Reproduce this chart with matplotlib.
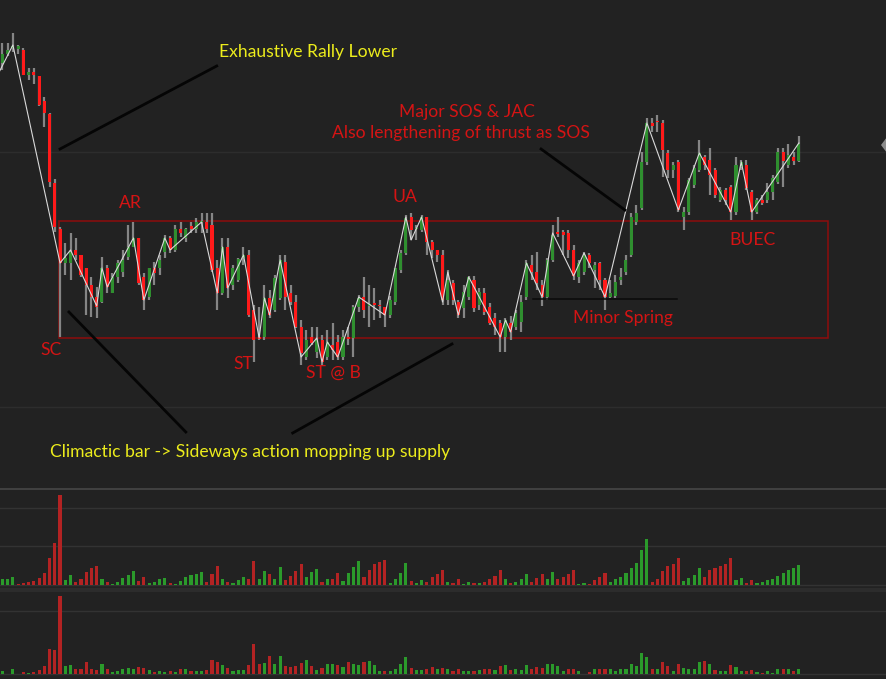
import numpy as np
import matplotlib
matplotlib.use("Agg")
import matplotlib.pyplot as plt
from matplotlib.lines import Line2D
from matplotlib.patches import Rectangle, Polygon

# ---- price bars (one per session) ----
opens = [
    437, 446, 452, 451, 450, 425, 428, 424, 399, 386,
    317, 271, 237, 237, 250, 245, 232, 215, 203, 198,
    232, 207, 223, 228, 243, 253, 262, 223, 203, 232,
    232, 248, 262, 250, 271, 262, 274, 271, 278, 278,
    275, 232, 207, 253, 215, 220, 242, 245, 190, 163,
    163, 202, 190, 202, 238, 207, 198, 173, 143, 163,
    148, 160, 143, 155, 158, 143, 163, 162, 193, 203,
    194, 197, 195, 193, 185, 198, 230, 247, 283, 271,
    270, 283, 258, 250, 245, 200, 217, 198, 192, 203,
    220, 195, 207, 193, 182, 177, 163, 177, 173, 178,
    203, 235, 228, 215, 203, 240, 268, 268, 267, 250,
    223, 228, 245, 230, 237, 220, 203, 204, 220, 228,
    245, 278, 292, 338, 377, 379, 377, 347, 330, 338,
    283, 288, 315, 330, 343, 340, 330, 300, 310, 313,
    288, 333, 335, 308, 288, 300, 300, 308, 318, 348,
    335, 343, 339,
]
highs = [
    457, 457, 467, 455, 452, 432, 432, 424, 403, 387,
    321, 273, 257, 267, 262, 245, 232, 223, 213, 243,
    235, 227, 240, 250, 275, 278, 262, 227, 232, 238,
    245, 265, 264, 275, 278, 272, 278, 282, 287, 287,
    287, 240, 262, 262, 235, 242, 253, 250, 195, 193,
    215, 210, 225, 245, 245, 215, 205, 180, 170, 173,
    173, 165, 170, 177, 165, 170, 173, 195, 205, 223,
    215, 212, 200, 193, 204, 232, 250, 285, 287, 275,
    285, 283, 260, 250, 250, 230, 220, 200, 215, 224,
    224, 212, 212, 197, 187, 180, 182, 184, 190, 205,
    240, 245, 248, 220, 242, 275, 283, 270, 270, 255,
    240, 248, 247, 238, 238, 222, 220, 225, 232, 245,
    287, 295, 348, 382, 382, 385, 380, 350, 338, 340,
    293, 322, 335, 360, 345, 352, 332, 313, 312, 315,
    343, 340, 340, 310, 302, 305, 317, 325, 352, 352,
    356, 348, 364,
]
lows = [
    430, 444, 448, 446, 425, 420, 416, 394, 373, 313,
    268, 163, 225, 220, 240, 223, 185, 183, 182, 197,
    207, 207, 217, 223, 240, 253, 215, 190, 200, 215,
    225, 242, 247, 248, 263, 258, 267, 267, 267, 267,
    228, 190, 205, 202, 210, 218, 235, 183, 138, 160,
    160, 182, 188, 200, 190, 195, 172, 135, 140, 155,
    142, 135, 140, 140, 140, 140, 155, 143, 188, 182,
    173, 180, 182, 173, 182, 195, 227, 245, 260, 260,
    268, 245, 242, 238, 195, 195, 195, 182, 182, 200,
    188, 190, 185, 175, 165, 148, 148, 160, 170, 168,
    200, 220, 210, 194, 200, 238, 263, 245, 242, 220,
    217, 225, 232, 212, 210, 190, 202, 202, 215, 225,
    243, 275, 290, 335, 368, 368, 323, 322, 322, 288,
    270, 285, 312, 328, 330, 305, 302, 298, 295, 280,
    285, 330, 310, 280, 286, 295, 297, 300, 316, 313,
    332, 335, 338,
]
closes = [
    446, 450, 454, 454, 425, 428, 425, 395, 387, 318,
    273, 237, 242, 248, 245, 225, 215, 203, 193, 232,
    213, 223, 237, 240, 253, 262, 217, 200, 232, 227,
    240, 262, 250, 271, 267, 271, 271, 278, 279, 271,
    230, 207, 253, 212, 232, 241, 245, 185, 160, 161,
    202, 185, 222, 240, 203, 198, 173, 147, 160, 157,
    160, 138, 158, 150, 143, 163, 161, 193, 202, 190,
    196, 195, 194, 185, 200, 232, 247, 282, 270, 272,
    283, 258, 250, 245, 200, 220, 200, 185, 208, 223,
    192, 208, 188, 177, 173, 163, 180, 168, 187, 198,
    237, 228, 217, 203, 240, 265, 266, 265, 250, 224,
    237, 245, 237, 235, 220, 203, 207, 218, 223, 240,
    283, 287, 338, 377, 374, 378, 350, 330, 335, 290,
    288, 320, 332, 347, 335, 325, 305, 310, 300, 288,
    335, 338, 312, 288, 300, 297, 308, 322, 348, 339,
    345, 339, 356,
]

# ---- volume panels ----
vol_upper = [
    6, 6, 8, 1, 2, 3, 4, 7, 12, 27,
    42, 90, 5, 10, 3, 6, 13, 17, 19, 6,
    3, 1.3, 3, 7, 10, 14, 4, 8, 2, 3.3,
    6, 7, 2, 1.3, 4, 8, 10, 11, 13, 3,
    11, 19, 5.7, 3.3, 2, 5, 7.7, 5.7, 24, 6,
    14, 11, 6, 18, 5, 9, 14, 21, 8, 13,
    16, 3.3, 6, 6, 12, 4, 12, 18, 23.7, 7.7,
    15, 21, 23, 25, 2, 6, 12, 22, 4, 2,
    5, 3.3, 8, 11, 15, 3.3, 2, 5.7, 1, 3.3,
    2, 2, 3, 6, 9, 14.7, 5.7, 2, 3, 5.7,
    11, 3, 7, 11, 6, 12.7, 5.7, 7.7, 11, 14.7,
    1, 2, 1, 5, 8, 12, 3.3, 5.7, 8, 12,
    17, 22, 35, 46, 3, 6, 14, 19, 21, 27,
    4, 7, 9.7, 17, 8, 14.7, 17, 19, 21.3, 27,
    5, 7, 2, 5, 2, 3, 5, 5.7, 9, 12,
    15, 17, 20,
]
vol_upper_dir = ("gggrrrrrrr" "rrggrrrrrg" "rgggggrrgg" "ggrggggggr" "rrgrgggrrg"
                 "grggrrrrgg" "grgrrggggr" "rrrrggggrg" "grrrrgrrgg" "rgrrrrgrgg"
                 "grrrggrrrr" "ggrrrrgggg" "ggggrrrrrr" "ggggrrrrrr" "ggrrgggggg"
                 "ggg")
vol_lower = [
    3, 0.3, 4.7, 0.3, 2.3, 1, 1.7, 3.7, 7.7, 25,
    24, 78, 7.7, 8.7, 4.7, 4.7, 11.7, 4.7, 3.7, 9.7,
    4.7, 1.7, 2.7, 5.3, 6, 4.7, 6.7, 5.7, 3.7, 1.7,
    2.7, 1.7, 2.7, 1.7, 4.7, 5, 3, 2.7, 2.7, 3.7,
    14.3, 11.7, 8.7, 5.7, 3, 3.7, 3.7, 8.7, 30, 9.7,
    10.7, 18.3, 9.7, 18.3, 7.7, 6.7, 7.7, 10.7, 13.7, 7.7,
    3.7, 5.7, 9.7, 9.7, 8.7, 6.7, 11.7, 9.7, 8.7, 12,
    12.7, 8.7, 2.7, 2.7, 2.7, 5, 9.7, 16.7, 5.7, 3.7,
    3.7, 5, 6.7, 5, 5.7, 5, 3, 4.7, 2.7, 2.7,
    2.7, 3.7, 4.7, 4.7, 3.7, 7.7, 8.7, 3.7, 4.7, 3.7,
    8.7, 4.7, 6.7, 5.7, 9.7, 9.7, 7.7, 2.7, 5, 5,
    2.7, 0.3, 1.7, 5, 4.7, 4.7, 5, 3, 4.7, 4.7,
    9.7, 7.7, 21, 16.7, 4.7, 5, 12, 7.7, 3, 9.7,
    5.7, 4.7, 4.7, 11.7, 12.7, 9.7, 3.7, 2.7, 3, 8.7,
    7, 2.7, 2.7, 3.7, 1.7, 0.7, 2.7, 0.7, 4.7, 4.7,
    4.7, 2.7, 4.7,
]
vol_lower_dir = ("ggggrgrrrr" "rrggrrrrrg" "rgggggrrgr" "ggrgrgrggr" "rrgrgggrrr"
                 "grggrrrrgr" "grggrgrggr" "gggrggggrg" "grrgrgrrgg" "rgrrgrgrgg"
                 "grrrggggrr" "ggrgrrgggg" "ggggrgrrgr" "ggggrgrggr" "ggrrgrgggr"
                 "grg")

# ---- swing line (zigzag) pivots ----
zz_idx = [-1, 2, 11, 13, 18, 19, 20, 25, 27, 31, 32, 38, 41, 42, 43, 46, 49, 50,
          51, 53, 57, 60, 61, 62, 64, 68, 73, 77, 78, 80, 84, 85, 87, 89, 95,
          96, 97, 100, 103, 105, 109, 111, 115, 123, 129, 133, 139, 141, 143, 152]
zz_price = [424, 455, 237, 250, 194, 232, 213, 262, 200, 262, 250, 278, 207, 253,
            212, 245, 162, 202, 185, 240, 143, 162, 138, 158, 143, 203, 185, 283,
            260, 283, 198, 228, 185, 223, 163, 180, 168, 237, 203, 267, 224, 247,
            203, 377, 290, 347, 288, 338, 288, 357]

BG = "#222222"
RED_TXT = "#d41414"
YEL_TXT = "#ecec1c"
FONT = "Lato"

n = len(closes)
x = np.arange(n)
o = np.array(opens, float)
c = np.array(closes, float)
body_lo = np.minimum(o, c)
body_h = np.maximum(np.abs(c - o), 1.3)
candle_col = np.where(c >= o, "#2f8f2f", "#ff1a1a")

W, H = 887, 679
fig = plt.figure(figsize=(W / 100, H / 100), dpi=100, facecolor=BG)

def fy(px):
    return 1 - px / H

xlim = (-2.4 / 5.24, (W - 2.4) / 5.24)

# main price panel
ax = fig.add_axes([0, fy(488), 1, 488 / H], facecolor=BG)
ax.set_xlim(*xlim)
ax.set_ylim(12, 500)
for g in (348, 93):
    ax.axhline(g, color="#2d2d2d", lw=1, zorder=0)

ax.vlines(x, lows, highs, color="#858585", lw=1.6, zorder=2)
ax.bar(x, body_h, bottom=body_lo, width=0.58, color=candle_col, zorder=3)
ax.plot(zz_idx, zz_price, color="#d9d9d9", lw=0.8, zorder=4)

# trading range box and spring line
ax.add_patch(Rectangle((10.8, 162), 157.6 - 10.8, 279 - 162, fill=False,
                       edgecolor="#8e0d0d", lw=1.1, zorder=1))
ax.plot([101.2, 128.7], [201, 201], color="#0a0a0a", lw=1.1, zorder=2)

# callout lines
for (x0, y0), (x1, y1) in [((40.9, 434), (11.0, 351)),
                           ((12.7, 188), (35.0, 68)),
                           ((55.4, 67), (85.8, 156)),
                           ((102.8, 351), (118.8, 290))]:
    ax.plot([x0, x1], [y0, y1], color="#050505", lw=2.0, zorder=5)

fs = 12.6
ax.text(58.3, 448, "Exhaustive Rally Lower", color=YEL_TXT, fontsize=fs,
        family=FONT, ha="center", va="center")
ax.text(47.2, 48, "Climactic bar -> Sideways action mopping up supply",
        color=YEL_TXT, fontsize=fs, family=FONT, ha="center", va="center")
ax.text(88.7, 388, "Major SOS & JAC", color=RED_TXT, fontsize=fs,
        family=FONT, ha="center", va="center")
ax.text(87.5, 367, "Also lengthening of thrust as SOS", color=RED_TXT,
        fontsize=fs, family=FONT, ha="center", va="center")
for txt, xi, yp in [("AR", 24.5, 297), ("UA", 76.8, 303), ("SC", 9.3, 150),
                    ("ST", 45.9, 136), ("ST @ B", 63.1, 127),
                    ("Minor Spring", 118.4, 182), ("BUEC", 143.1, 260)]:
    ax.text(xi, yp, txt, color=RED_TXT, fontsize=fs, family=FONT,
            ha="center", va="center")

# upper volume panel
av1 = fig.add_axes([0, fy(588), 1, 99 / H], facecolor=BG)
av1.set_xlim(*xlim)
av1.set_ylim(-3, 96)
for g in (0, 39, 77):
    av1.axhline(g, color="#333333", lw=1, zorder=0)
col1 = ["#2b9a2b" if d == "g" else "#b32323" for d in vol_upper_dir]
av1.bar(x, vol_upper, width=0.6, color=col1, zorder=2)

# lower volume panel
av2 = fig.add_axes([0, 0, 1, 89 / H], facecolor=BG)
av2.set_xlim(*xlim)
av2.set_ylim(-5, 84)
for g in (0, 63):
    av2.axhline(g, color="#333333", lw=1, zorder=0)
col2 = ["#2b9a2b" if d == "g" else "#b32323" for d in vol_lower_dir]
av2.bar(x, vol_lower, width=0.6, color=col2, zorder=2)

for a in (ax, av1, av2):
    a.set_xticks([])
    a.set_yticks([])
    for s in a.spines.values():
        s.set_visible(False)

# panel separators
fig.add_artist(Line2D([0, 1], [fy(489), fy(489)], color="#474747", lw=1.2))
fig.add_artist(Line2D([0, 1], [fy(590), fy(590)], color="#2c2c2c", lw=3))

# price-axis marker at the right edge
fig.add_artist(Polygon([[1.0, fy(137)], [1 - 6 / W, fy(145)], [1.0, fy(153)]],
                       closed=True, facecolor="#8c8c8c", edgecolor="none",
                       transform=fig.transFigure))

fig.savefig("out.png", dpi=100, facecolor=BG)
